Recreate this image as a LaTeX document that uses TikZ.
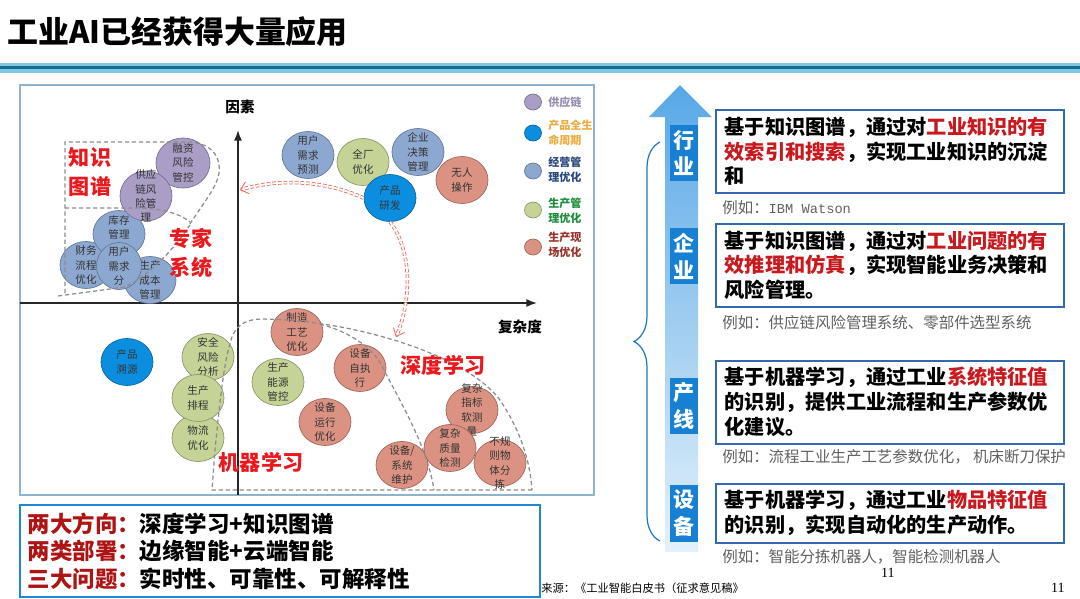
\documentclass[tikz,border=0pt]{standalone}
\usepackage{fontspec}
\setmainfont{Noto Sans CJK SC}
\newfontfamily\serifnum{Liberation Serif}
\newfontfamily\exmono{Liberation Mono}
\usetikzlibrary{arrows.meta, positioning, shapes.geometric, decorations.pathreplacing}

\definecolor{chaincol}{RGB}{170,158,198}
\definecolor{lifecol}{RGB}{12,142,224}
\definecolor{opercol}{RGB}{141,168,208}
\definecolor{prodcol}{RGB}{197,211,151}
\definecolor{sitecol}{RGB}{219,146,130}
\definecolor{chaintext}{RGB}{150,140,175}
\definecolor{lifetext}{RGB}{236,172,62}
\definecolor{opertext}{RGB}{42,72,125}
\definecolor{prodtext}{RGB}{30,140,60}
\definecolor{sitetext}{RGB}{150,52,42}
\definecolor{hotred}{RGB}{235,25,30}
\definecolor{flowred}{RGB}{228,100,90}
\definecolor{tierblue}{RGB}{24,128,210}
\definecolor{boxblue}{RGB}{50,105,175}
\definecolor{rednote}{RGB}{200,25,30}
\definecolor{sumblue}{RGB}{30,135,215}
\definecolor{sumred}{RGB}{175,20,20}
\definecolor{framecol}{RGB}{140,180,206}
\definecolor{barlight}{RGB}{125,200,226}
\definecolor{bardark}{RGB}{25,105,140}
\definecolor{arrowtop}{RGB}{88,168,230}
\definecolor{arrowbot}{RGB}{228,241,251}
\definecolor{bracecol}{RGB}{30,120,195}

\newcommand\redtxt[1]{\textcolor{rednote}{#1}}

\begin{document}
\begin{tikzpicture}[x=0.02cm, y=-0.02cm,
    bubble/.style={ellipse, draw=#1!72!black, fill=#1, line width=0.4pt, minimum width=1.04cm, minimum height=0.94cm,
        inner xsep=0pt, inner ysep=-6pt, align=center, text=black!80, font=\fontsize{6}{8.2}\selectfont},
    dot/.style={ellipse, draw=#1!72!black, fill=#1, line width=0.4pt, minimum width=0.34cm, minimum height=0.32cm, inner sep=0pt},
    key/.style={anchor=west, align=left, inner sep=0pt, font=\fontsize{6.3}{8.4}\selectfont\bfseries},
    zone/.style={draw=black!45, dash pattern=on 2.4pt off 1.6pt, line width=0.7pt},
    zonelabel/.style={text=hotred, font=\fontsize{12}{16.5}\selectfont\bfseries, align=center, inner sep=0pt},
    axislabel/.style={font=\fontsize{8.3}{10}\selectfont\bfseries, inner sep=0pt},
    axis/.style={-{Latex[length=6pt, width=4.5pt]}, line width=0.9pt, black!85},
    flow/.style={draw=flowred, double=white, double distance=1.1pt, line width=0.45pt, dash pattern=on 2pt off 1.2pt,
        -{Straight Barb[length=4pt, width=7pt]}},
    tier/.style={fill=tierblue, text=white, font=\fontsize{12}{15.3}\selectfont\bfseries, align=center,
        minimum width=0.56cm, minimum height=1.14cm, inner sep=0pt},
    textbox/.style={draw=boxblue, line width=0.9pt, anchor=north west, text width=6.6cm, inner xsep=0.18cm,
        minimum height=1.66cm, align=left, font=\fontsize{11.5}{14.2}\selectfont\bfseries},
    example/.style={anchor=west, inner sep=0pt, text=black!62, font=\fontsize{8.8}{10}\selectfont}
]
    \useasboundingbox (0,0) rectangle (1080,599);
    \fill[white] (0,0) rectangle (1080,599);

    \node[anchor=west, inner sep=0pt, font=\fontsize{17.6}{20}\selectfont\bfseries] (title) at (7,32) {工业AI已经获得大量应用};
    \fill[barlight] (0,62.5) rectangle (1080,72.5);
    \draw[bardark, line width=1.4pt] (0,67.5) -- (1080,67.5);

    % chart
    \draw[framecol, line width=1.1pt] (20,85) rectangle (594,495);
    \draw[axis] (238,495) -- (238,130) coordinate (ytop);
    \draw[axis] (20,303) -- (537,303) coordinate (xend);
    \node[axislabel] (ylab) at (240,107) {因素};
    \node[axislabel] (xlab) at (520,327) {复杂度};

    \node[bubble=opercol] (fina) at (86,265) {财务\\流程\\优化};
    \node[bubble=opercol] (cost) at (150,280) {生产\\成本\\管理};
    \node[bubble=opercol] (inv) at (119,234) {库存\\管理\\~};
    \node[bubble=opercol, minimum width=0.9cm] (usr) at (119,266) {用户\\需求\\分};
    \node[bubble=chaincol, minimum width=1.08cm, minimum height=1.0cm] (fin) at (183,163) {融资\\风险\\管控};
    \node[bubble=chaincol, minimum height=1.0cm] (sup) at (146,196) {供应\\链风\\险管\\理};

    \node[bubble=opercol] (dem) at (308,155) {用户\\需求\\预测};
    \node[bubble=prodcol] (plant) at (363,162) {全厂\\优化};
    \node[bubble=opercol] (dec) at (418,152) {企业\\决策\\管理};
    \node[bubble=sitecol] (unman) at (462,180) {无人\\操作};
    \node[bubble=lifecol] (rnd) at (390,198) {产品\\研发};

    \node[bubble=lifecol] (trace) at (127,362) {产品\\溯源};
    \node[bubble=prodcol] (safe) at (208,357) {安全\\风险\\分析};
    \node[bubble=prodcol] (logi) at (198,438) {物流\\优化};
    \node[bubble=prodcol] (sched) at (198,398) {生产\\排程};
    \node[bubble=prodcol] (energy) at (278,382) {生产\\能源\\管控};

    \node[bubble=sitecol] (craft) at (297,332) {制造\\工艺\\优化};
    \node[bubble=sitecol] (selfx) at (360,368) {设备\\自执\\行};
    \node[bubble=sitecol] (run) at (325,422) {设备\\运行\\优化};
    \node[bubble=sitecol] (soft) at (472,410) {复杂\\指标\\软测\\量};
    \node[bubble=sitecol] (maint) at (402,465) {设备/\\系统\\维护};
    \node[bubble=sitecol] (qual) at (450,448) {复杂\\质量\\检测};
    \node[bubble=sitecol] (sort) at (500,463) {不规\\则物\\体分\\拣};

    % legend
    \node[dot=chaincol] (k1) at (533,102) {};
    \node[dot=lifecol] (k2) at (533,133) {};
    \node[dot=opercol] (k3) at (533,171) {};
    \node[dot=prodcol] (k4) at (533,210) {};
    \node[dot=sitecol] (k5) at (533,247) {};
    \node[key, text=chaintext] (t1) at (548,102) {供应链};
    \node[key, text=lifetext] (t2) at (548,133) {产品全生\\命周期};
    \node[key, text=opertext] (t3) at (548,170) {经营管\\理优化};
    \node[key, text=prodtext] (t4) at (548,211) {生产管\\理优化};
    \node[key, text=sitetext] (t5) at (548,245) {生产现\\场优化};

    % regions
    \draw[zone] (65,293) -- (65,142) -- (190,142) .. controls (205,143) and (217,150) .. (219,165)
        .. controls (222,182) and (205,200) .. (188,227);
    \draw[zone] (58,296) -- (125,287) .. controls (152,274) and (176,246) .. (190,225);
    \draw[zone] (65,208) -- (140,208) .. controls (165,209) and (180,214) .. (190,222);
    \draw[zone] (532,490) -- (212,490) -- (215,450) .. controls (220,400) and (224,360) .. (232,337)
        .. controls (238,322) and (250,319) .. (263,319) -- (290,320)
        .. controls (380,328) and (470,360) .. (500,400) .. controls (520,430) and (530,460) .. (532,490);
    \draw[zone] (320,324) .. controls (360,335) and (378,355) .. (385,372) .. controls (405,410) and (428,450) .. (434,490);

    \node[zonelabel] (kg) at (90,172) {知识\\图谱};
    \node[zonelabel] (expert) at (191,253) {专家\\系统};
    \node[zonelabel] (dl) at (443,365) {深度学习};
    \node[zonelabel] (ml) at (261,462) {机器学习};

    \coordinate (kgtip) at (240,190);
    \coordinate (dltip) at (396,337);
    \draw[flow] (rnd.west) .. controls (320,178) and (272,180) .. (kgtip);
    \draw[flow] (rnd.south) .. controls (412,250) and (412,300) .. (dltip);

    % summary
    \node[draw=sumblue, line width=1.4pt, text width=10.1cm, inner xsep=0.15cm, minimum height=1.84cm, align=left,
        font=\fontsize{12.8}{15.6}\selectfont\bfseries] (summary) at (280,551)
        {\textcolor{sumred}{两大方向：}深度学习+知识图谱\\\textcolor{sumred}{两类部署：}边缘智能+云端智能\\\textcolor{sumred}{三大问题：}实时性、可靠性、可解释性};
    \node[anchor=west, inner sep=0pt, font=\fontsize{6.4}{7}\selectfont] (src) at (541,588) {来源：《工业智能白皮书（征求意见稿》};
    \node[inner sep=0pt, font=\serifnum\fontsize{8}{9}\selectfont] (pg1) at (888,573) {11};
    \node[inner sep=0pt, font=\serifnum\fontsize{8}{9}\selectfont] (pg2) at (1058,588) {11};

    % levels
    \shade[top color=arrowtop, bottom color=arrowbot] (665,552) -- (665,117) -- (649,117) -- (680,85) -- (712,117)
        -- (698,117) -- (698,552) -- cycle;
    \draw[bracecol, line width=0.7pt, decorate, decoration={brace, amplitude=0.52cm}] (660,541) -- (660,142);
    \node[tier] (lv1) at (684,153) {行\\业};
    \node[tier] (lv2) at (684,256) {企\\业};
    \node[tier] (lv3) at (684,406) {产\\线};
    \node[tier] (lv4) at (684,513) {设\\备};

    \node[textbox] (tb1) at (715,109) {基于知识图谱，通过对\redtxt{工业知识的有}\\\redtxt{效索引和搜索}，实现工业知识的沉淀\\和};
    \node[textbox] (tb2) at (715,223) {基于知识图谱，通过对\redtxt{工业问题的有}\\\redtxt{效推理和仿真}，实现智能业务决策和\\风险管理。};
    \node[textbox] (tb3) at (715,360) {基于机器学习，通过工业\redtxt{系统特征值}\\的识别，提供工业流程和生产参数优\\化建议。};
    \node[textbox, minimum height=1.18cm] (tb4) at (715,483) {基于机器学习，通过工业\redtxt{物品特征值}\\的识别，实现自动化的生产动作。};

    \node[example] (ex1) at (722,208) {例如：{\exmono\fontsize{7.8}{9}\selectfont IBM Watson}};
    \node[example] (ex2) at (722,323) {例如：供应链风险管理系统、零部件选型系统};
    \node[example] (ex3) at (722,457) {例如：流程工业生产工艺参数优化， 机床断刀保护};
    \node[example] (ex4) at (722,557) {例如：智能分拣机器人，智能检测机器人};
\end{tikzpicture}
\end{document}
